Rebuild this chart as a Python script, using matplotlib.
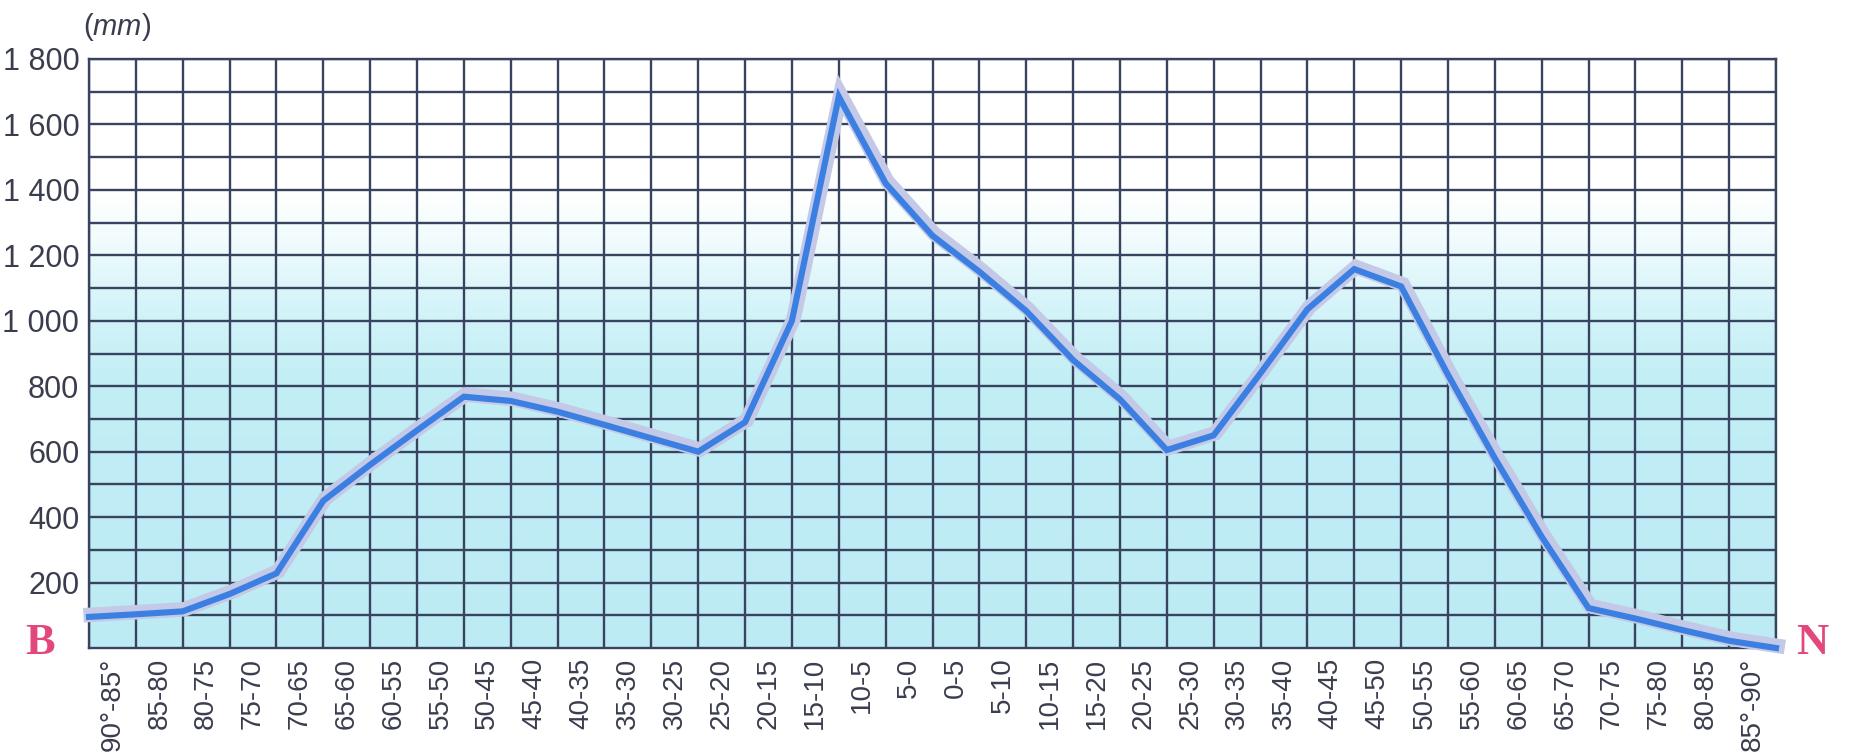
import numpy as np
import matplotlib.pyplot as plt
import matplotlib.patheffects as pe
from matplotlib.colors import LinearSegmentedColormap

# latitude band edges (south B -> north N), every 5 degrees
lat_edges = list(range(-90, 95, 5))
# precipitation (mm) read at each band edge
precip = [95, 103, 112, 165, 228, 450, 560, 665, 768, 755, 722, 682, 641, 600,
          690, 1000, 1685, 1420, 1260, 1150, 1030, 880, 760, 605, 650, 840,
          1035, 1158, 1105, 835, 580, 340, 122, 90, 55, 22, 0]

band_labels = ["90°-85°", "85-80", "80-75", "75-70", "70-65", "65-60", "60-55",
               "55-50", "50-45", "45-40", "40-35", "35-30", "30-25", "25-20",
               "20-15", "15-10", "10-5", "5-0", "0-5", "5-10", "10-15", "15-20",
               "20-25", "25-30", "30-35", "35-40", "40-45", "45-50", "50-55",
               "55-60", "60-65", "65-70", "70-75", "75-80", "80-85", "85°-90°"]
y_ticks = [200, 400, 600, 800, 1000, 1200, 1400, 1600, 1800]
y_labels = ["200", "400", "600", "800", "1 000", "1 200", "1 400", "1 600", "1 800"]

grid_col = '#38435f'
text_col = '#3a3d4e'

plt.rcParams['font.family'] = ['Liberation Sans', 'DejaVu Sans']
plt.rcParams['mathtext.fontset'] = 'custom'
plt.rcParams['mathtext.it'] = 'Liberation Sans:italic'
plt.rcParams['mathtext.rm'] = 'Liberation Sans'

fig = plt.figure(figsize=(18.52, 7.52), dpi=100)
ax = fig.add_axes([89 / 1852, 104 / 752, 1687 / 1852, 589 / 752])

# background: white at top fading into light cyan
cmap = LinearSegmentedColormap.from_list(
    'bg', [(0.0, '#bdebf4'), (0.45, '#c2eef6'), (0.58, '#d4f4f9'),
           (0.70, '#f2fcfd'), (0.78, '#ffffff'), (1.0, '#ffffff')])
grad = np.linspace(0, 1, 256).reshape(-1, 1)
ax.imshow(grad, aspect='auto', cmap=cmap, origin='lower',
          extent=[0, 1, 0, 1], transform=ax.transAxes, zorder=0)

ax.set_xlim(-90, 90)
ax.set_ylim(0, 1800)

# grid lines
ax.set_xticks(lat_edges)
ax.set_xticklabels([])
centers = [(a + b) / 2 for a, b in zip(lat_edges[:-1], lat_edges[1:])]
ax.set_xticks(centers, minor=True)
ax.set_xticklabels(band_labels, minor=True, rotation=90, va='top', ha='center',
                   fontsize=20, color=text_col,
                   family=['Liberation Sans Narrow', 'Liberation Sans'])
ax.set_yticks(y_ticks)
ax.set_yticklabels(y_labels, fontsize=22, color=text_col)
ax.set_yticks(range(100, 1800, 200), minor=True)
ax.tick_params(which='both', length=0)
ax.tick_params(axis='x', which='minor', pad=7)
ax.tick_params(axis='y', which='major', pad=7)
ax.grid(axis='x', which='major', color=grid_col, lw=1.7, zorder=1)
ax.grid(axis='y', which='both', color=grid_col, lw=1.7, zorder=1)
ax.set_axisbelow(True)
for s in ax.spines.values():
    s.set_color(grid_col)
    s.set_linewidth(1.7)

# precipitation line with a pale halo
ax.plot(lat_edges, precip, color='#3b7fe2', lw=4.4, solid_joinstyle='miter',
        zorder=3, clip_on=False,
        path_effects=[pe.Stroke(linewidth=10.5, foreground='#c3c9e6', offset=(1.2, 1.5)),
                      pe.Normal()])

fig.text(0.063, 0.964, r"($\mathit{mm}$)", fontsize=21, color=text_col,
         ha='center', va='center')
fig.text(40 / 1852, 1 - 643 / 752, "B", fontsize=32, fontweight='bold',
         family='Liberation Serif', color='#e2487c', ha='center', va='center')
fig.text(1812 / 1852, 1 - 643 / 752, "N", fontsize=32, fontweight='bold',
         family='Liberation Serif', color='#e2487c', ha='center', va='center')

fig.savefig('out.png', dpi=100, facecolor='white')
